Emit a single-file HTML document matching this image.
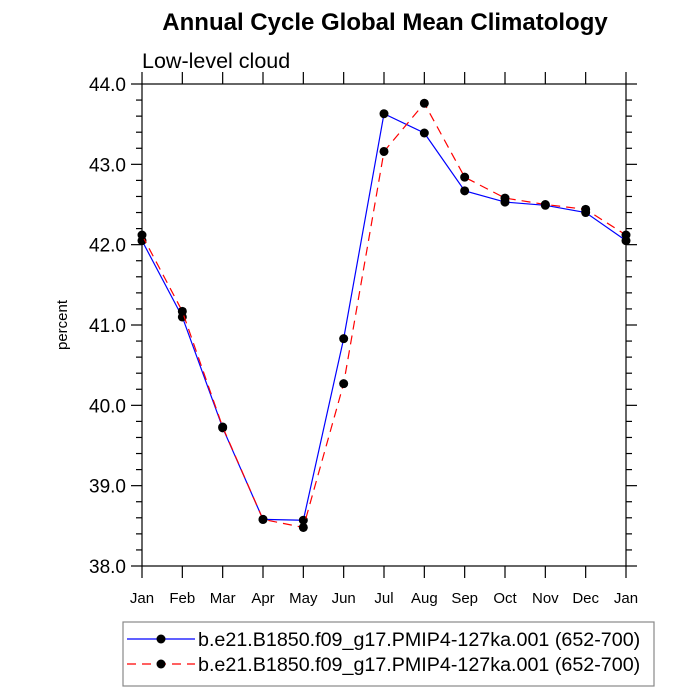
<!DOCTYPE html>
<html><head><meta charset="utf-8"><style>body{margin:0;background:#fff}svg{display:block}text{font-family:"Liberation Sans",sans-serif}</style></head>
<body>
<svg id="c" width="700" height="700" xmlns="http://www.w3.org/2000/svg">
<text x="385" y="30" text-anchor="middle" font-size="24" font-weight="bold">Annual Cycle Global Mean Climatology</text>
<text x="142" y="68" font-size="21.5">Low-level cloud</text>
<text transform="translate(67,325) rotate(-90)" text-anchor="middle" font-size="15">percent</text>
<g id="axes"></g><g id="series"></g>
<g>
<rect x="123" y="622" width="531" height="64" fill="#fff" stroke="#888" stroke-width="1.2"/>
<g><line x1="127" y1="639" x2="195" y2="639" stroke="#00f" stroke-width="1.2"/><circle cx="161" cy="639" r="4.5"/><text x="198" y="646" font-size="19.7">b.e21.B1850.f09_g17.PMIP4-127ka.001 (652-700)</text></g>
<g><line x1="127" y1="664" x2="195" y2="664" stroke="#f00" stroke-width="1.2" stroke-dasharray="9,6"/><circle cx="161" cy="664" r="4.5"/><text x="198" y="671" font-size="19.7">b.e21.B1850.f09_g17.PMIP4-127ka.001 (652-700)</text></g>
</g>
</svg>
<script>
const months=["Jan","Feb","Mar","Apr","May","Jun","Jul","Aug","Sep","Oct","Nov","Dec","Jan"];
const seriesBlue=[42.05,41.10,39.72,38.58,38.57,40.83,43.63,43.39,42.67,42.53,42.49,42.40,42.05];
const seriesRed=[42.12,41.17,39.73,38.58,38.48,40.27,43.16,43.76,42.84,42.58,42.50,42.44,42.12];
const yTicks=["38.0","39.0","40.0","41.0","42.0","43.0","44.0"];
const L=142,R=626,T=84,B=566,yMin=38,yMax=44;
const xs=i=>L+(R-L)*i/(months.length-1);
const ys=v=>B-(B-T)*(v-yMin)/(yMax-yMin);
const NS="http://www.w3.org/2000/svg";
function mk(tag,at,parent){const e=document.createElementNS(NS,tag);for(const k in at)e.setAttribute(k,at[k]);parent.appendChild(e);return e;}
const ax=document.getElementById('axes');
const fr=mk('rect',{x:L,y:T,width:R-L,height:B-T,fill:'none',stroke:'#000','stroke-width':1.2},ax);


months.forEach((m,i)=>{const x=xs(i);
mk('line',{x1:x,y1:B,x2:x,y2:B+12,stroke:'#000','stroke-width':1.2},ax);
mk('line',{x1:x,y1:T,x2:x,y2:T-12,stroke:'#000','stroke-width':1.2},ax);
const t=mk('text',{x:x,y:603,'text-anchor':'middle','font-size':15},ax);t.textContent=m;

});
for(let v=yMin;v<=yMax+1e-9;v+=0.2){const y=ys(v);const maj=Math.abs(v-Math.round(v))<1e-6;const len=maj?11:6;
mk('line',{x1:L-len,y1:y,x2:L,y2:y,stroke:'#000','stroke-width':1.2},ax);
mk('line',{x1:R,y1:y,x2:R+len,y2:y,stroke:'#000','stroke-width':1.2},ax);}
yTicks.forEach(s=>{const y=ys(parseFloat(s));const t=mk('text',{x:126,y:y+7,'text-anchor':'end','font-size':19},ax);t.textContent=s;

});
const sg=document.getElementById('series');
function draw(vals,color,dash,name){
const g=mk('g',{},sg);


const at={points:vals.map((v,i)=>xs(i)+','+ys(v)).join(' '),fill:'none',stroke:color,'stroke-width':1.2};
if(dash)at['stroke-dasharray']=dash;
const p=mk('polyline',at,g);


vals.forEach((v,i)=>{const c=mk('circle',{cx:xs(i),cy:ys(v),r:4.5,fill:'#000'},g);

});}
draw(seriesBlue,'#00f',null,'series-blue');
draw(seriesRed,'#f00','9,6','series-red');
</script>
</body></html>
